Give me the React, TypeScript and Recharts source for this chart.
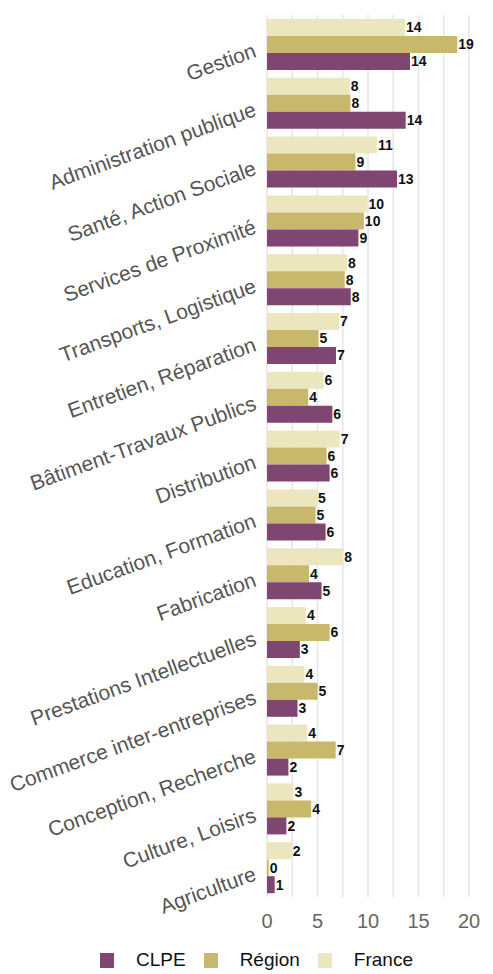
import * as React from 'react';
import { Bar, BarChart, CartesianGrid, LabelList, Legend, XAxis, YAxis } from 'recharts';

const categories = [
  'Gestion',
  'Administration publique',
  'Santé, Action Sociale',
  'Services de Proximité',
  'Transports, Logistique',
  'Entretien, Réparation',
  'Bâtiment-Travaux Publics',
  'Distribution',
  'Education, Formation',
  'Fabrication',
  'Prestations Intellectuelles',
  'Commerce inter-entreprises',
  'Conception, Recherche',
  'Culture, Loisirs',
  'Agriculture'
];

const france = [13.67, 8.19, 10.88, 9.95, 7.93, 7.13, 5.6, 7.2, 4.94, 7.55, 3.85, 3.71, 3.98, 2.62, 2.45];
const region = [18.84, 8.26, 8.76, 9.59, 7.69, 5.1, 4.08, 5.9, 4.81, 4.15, 6.2, 5.0, 6.8, 4.38, 0.17];
const clpe = [14.16, 13.73, 12.87, 9.05, 8.29, 6.83, 6.47, 6.2, 5.8, 5.4, 3.25, 3.02, 2.12, 1.92, 0.76];

const xTicks = [0, 2.5, 5, 7.5, 10, 12.5, 15, 17.5, 20];

const colors = { CLPE: '#7e4670', Région: '#c8b86c', France: '#ece6bf' };
const legendOrder = ['CLPE', 'Région', 'France'];

const data = categories.map((name, i) => ({
  name,
  France: france[i],
  Région: region[i],
  CLPE: clpe[i]
}));

const font = '"Liberation Sans", Arial, sans-serif';

function CategoryTick(props: any) {
  const { x, y, payload } = props;
  const ax = x - 4;
  const ay = y + 5;
  return (
    <text
      x={ax}
      y={ay}
      transform={`rotate(-20, ${ax}, ${ay})`}
      textAnchor="end"
      dominantBaseline="central"
      fill="#555"
      fontSize={21}
      fontFamily={font}
    >
      {payload.value}
    </text>
  );
}

function ValueTick(props: any) {
  const { x, y, payload } = props;
  if (payload.value % 5 !== 0) return null;
  return (
    <text x={x} y={y} dy={16} textAnchor="middle" dominantBaseline="central" fill="#666" fontSize={20} fontFamily={font}>
      {payload.value}
    </text>
  );
}

function ChartLegend() {
  return (
    <div
      style={{
        height: 44,
        display: 'flex',
        alignItems: 'flex-end',
        justifyContent: 'flex-start',
        paddingLeft: 100,
        paddingBottom: 2,
        boxSizing: 'border-box',
        fontFamily: font,
        fontSize: 19,
        color: '#111'
      }}
    >
      {legendOrder.map((key) => (
        <div key={key} style={{ display: 'flex', alignItems: 'center', marginRight: 18, lineHeight: '24px' }}>
          <span style={{ display: 'inline-block', width: 14, height: 15, background: colors[key as keyof typeof colors], marginRight: 22 }} />
          <span>{key}</span>
        </div>
      ))}
    </div>
  );
}

const labelStyle = { fontSize: 14, fontWeight: 700, fill: '#111', fontFamily: font };
const fmt = (v: any) => Math.round(Number(v));

export default function App() {
  return (
    <div style={{ position: 'absolute', left: 0, top: 0, width: 493, height: 974, background: '#fff' }}>
      <BarChart
        width={493}
        height={974}
        data={data}
        layout="vertical"
        margin={{ top: 15, right: 24, bottom: 0, left: 0 }}
        barSize={17}
        barGap={0}
      >
        <CartesianGrid horizontal={false} stroke="#e6e6e6" strokeWidth={1.5} />
        <XAxis
          type="number"
          domain={[0, 20]}
          ticks={xTicks}
          interval={0}
          tick={<ValueTick />}
          axisLine={false}
          tickLine={false}
          height={33}
        />
        <YAxis
          type="category"
          dataKey="name"
          width={267}
          tick={<CategoryTick />}
          axisLine={false}
          tickLine={false}
          interval={0}
        />
        <Legend verticalAlign="bottom" content={() => <ChartLegend />} />
        <Bar dataKey="France" fill={colors.France} isAnimationActive={false}>
          <LabelList dataKey="France" position="right" offset={1} formatter={fmt} style={labelStyle} />
        </Bar>
        <Bar dataKey="Région" fill={colors['Région']} isAnimationActive={false}>
          <LabelList dataKey="Région" position="right" offset={1} formatter={fmt} style={labelStyle} />
        </Bar>
        <Bar dataKey="CLPE" fill={colors.CLPE} isAnimationActive={false}>
          <LabelList dataKey="CLPE" position="right" offset={1} formatter={fmt} style={labelStyle} />
        </Bar>
      </BarChart>
    </div>
  );
}
